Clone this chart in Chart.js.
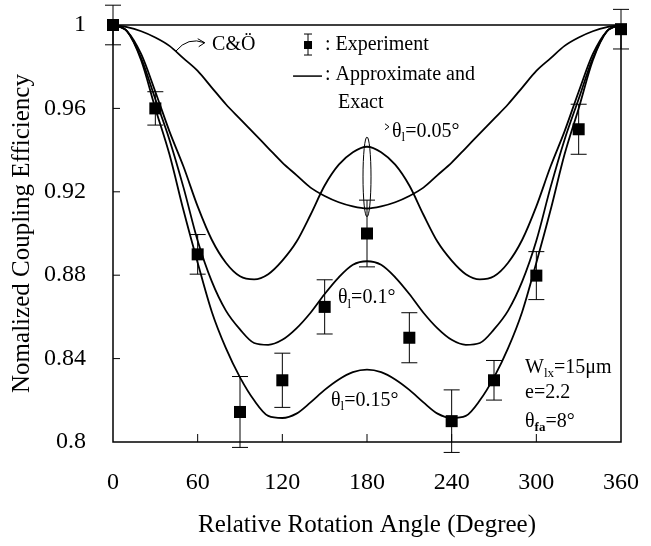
<!DOCTYPE html>
<html>
<head>
<meta charset="utf-8">
<script src="https://cdn.jsdelivr.net/npm/chart.js@4"></script>
<style>
  html, body { margin: 0; padding: 0; background: #fff; }
  #wrap { width: 651px; height: 546px; }
</style>
</head>
<body>
<div id="wrap"><canvas id="chart"></canvas></div>
<script>
// angles for the theory curves (degrees)
const angles = [0, 10, 20, 30, 40, 50, 60, 70, 80, 90, 100, 110, 120, 130, 140, 150, 160, 170, 180,
  190, 200, 210, 220, 230, 240, 250, 260, 270, 280, 290, 300, 310, 320, 330, 340, 350, 360];

// C&Ö curve
const caoValues = [1, 0.999, 0.997, 0.994, 0.990, 0.984, 0.978, 0.970, 0.962, 0.955, 0.948, 0.941, 0.934, 0.928, 0.922, 0.918, 0.915, 0.913, 0.912,
  0.913, 0.915, 0.918, 0.922, 0.928, 0.934, 0.941, 0.948, 0.955, 0.962, 0.970, 0.978, 0.984, 0.990, 0.994, 0.997, 0.999, 1];

// approximate / exact, theta_l = 0.05, 0.1, 0.15 deg
const theta005 = [1, 0.997, 0.986, 0.968, 0.949, 0.932, 0.913, 0.897, 0.886, 0.8795, 0.878, 0.8805, 0.887, 0.896, 0.909, 0.923, 0.933, 0.939, 0.9416,
  0.939, 0.933, 0.923, 0.909, 0.896, 0.887, 0.8805, 0.878, 0.8795, 0.886, 0.897, 0.913, 0.932, 0.949, 0.968, 0.986, 0.997, 1];
const theta010 = [1, 0.997, 0.984, 0.9645, 0.945, 0.922, 0.8965, 0.877, 0.863, 0.854, 0.8475, 0.8466, 0.849, 0.8545, 0.862, 0.871, 0.879, 0.885, 0.8867,
  0.885, 0.879, 0.871, 0.862, 0.8545, 0.849, 0.8466, 0.8475, 0.854, 0.863, 0.877, 0.8965, 0.922, 0.945, 0.9645, 0.984, 0.997, 1];
const theta015 = [1, 0.997, 0.983, 0.960, 0.938, 0.911, 0.886, 0.8625, 0.845, 0.831, 0.820, 0.8125, 0.8115, 0.8136, 0.819, 0.825, 0.830, 0.8335, 0.8347,
  0.8335, 0.830, 0.825, 0.819, 0.8136, 0.8115, 0.8125, 0.820, 0.831, 0.845, 0.8625, 0.886, 0.911, 0.938, 0.960, 0.983, 0.997, 1];

// experiment
const expAngles = [0, 30, 60, 90, 120, 150, 180, 210, 240, 270, 300, 330, 360];
const expValues = [1.0, 0.96, 0.89, 0.8144, 0.8296, 0.8648, 0.900, 0.850, 0.810, 0.8296, 0.8798, 0.95, 0.998];
const expErrors = [0.0095, 0.008, 0.0095, 0.017, 0.013, 0.013, 0.016, 0.012, 0.015, 0.0095, 0.0115, 0.012, 0.0095];

const xTicks = [0, 60, 120, 180, 240, 300, 360];

const SERIF = '"Liberation Serif", "Times New Roman", serif';
const pts = (xs, ys) => xs.map((a, i) => ({ x: a, y: ys[i] }));

function curve(label, values) {
  return {
    label,
    data: pts(angles, values),
    borderColor: '#000',
    borderWidth: 1.8,
    pointRadius: 0,
    fill: false,
    cubicInterpolationMode: 'monotone'
  };
}

// text with a subscript part, e.g. θ_l=0.1°
function subText(ctx, x, y, main, sub, tail, bold) {
  ctx.textAlign = 'left';
  ctx.textBaseline = 'middle';
  ctx.font = '20px ' + SERIF;
  ctx.fillText(main, x, y);
  x += ctx.measureText(main).width;
  ctx.font = (bold ? 'bold ' : '') + '13px ' + SERIF;
  ctx.fillText(sub, x, y + 6);
  x += ctx.measureText(sub).width;
  ctx.font = '20px ' + SERIF;
  ctx.fillText(tail, x, y);
}

const decor = {
  id: 'decor',
  afterDatasetsDraw(chart) {
    const { ctx, chartArea: a, scales: { x, y } } = chart;
    const P = (dx, dy) => [x.getPixelForValue(dx), y.getPixelForValue(dy)];
    ctx.save();
    ctx.strokeStyle = '#000';
    ctx.fillStyle = '#000';

    // frame
    ctx.lineWidth = 1.5;
    ctx.strokeRect(a.left, a.top, a.right - a.left, a.bottom - a.top);

    // inward ticks
    ctx.lineWidth = 1;
    ctx.beginPath();
    [0.84, 0.88, 0.92, 0.96].forEach(v => {
      const py = y.getPixelForValue(v);
      ctx.moveTo(a.left, py); ctx.lineTo(a.left + 7, py);
    });
    xTicks.slice(1, -1).forEach(v => {
      const px = x.getPixelForValue(v);
      ctx.moveTo(px, a.bottom); ctx.lineTo(px, a.bottom - 8);
    });
    ctx.stroke();

    // error bars
    ctx.lineWidth = 1;
    ctx.beginPath();
    expAngles.forEach((ang, i) => {
      const px = x.getPixelForValue(ang);
      const t = y.getPixelForValue(expValues[i] + expErrors[i]);
      const b = y.getPixelForValue(expValues[i] - expErrors[i]);
      ctx.moveTo(px, t); ctx.lineTo(px, b);
      ctx.moveTo(px - 8, t); ctx.lineTo(px + 8, t);
      ctx.moveTo(px - 8, b); ctx.lineTo(px + 8, b);
    });
    ctx.stroke();

    // C&Ö label with curved arrow
    let [tx, ty] = P(70.2, 0.9904);
    ctx.font = '20px ' + SERIF;
    ctx.textAlign = 'left';
    ctx.textBaseline = 'middle';
    ctx.fillText('C&Ö', tx, ty);
    const [sx, sy] = P(44.6, 0.9875);
    const [cx, cy] = P(53, 0.9945);
    const [ex, ey] = P(65, 0.9915);
    ctx.lineWidth = 1;
    ctx.beginPath();
    ctx.moveTo(sx, sy);
    ctx.quadraticCurveTo(cx, cy, ex, ey);
    ctx.moveTo(ex - 7, ey - 4); ctx.lineTo(ex, ey); ctx.lineTo(ex - 6, ey + 4);
    ctx.stroke();

    // legend: experiment
    const [lx, ly] = P(138.2, 0.9904);
    ctx.fillRect(lx - 4, ly - 4, 8, 8);
    ctx.beginPath();
    ctx.moveTo(lx, ly - 11); ctx.lineTo(lx, ly + 10);
    ctx.moveTo(lx - 4, ly - 11); ctx.lineTo(lx + 4, ly - 11);
    ctx.moveTo(lx - 4, ly + 10); ctx.lineTo(lx + 4, ly + 10);
    ctx.stroke();
    [tx, ty] = P(150.2, 0.9904);
    ctx.fillText(': Experiment', tx, ty);

    // legend: theory line
    const [l1x, l1y] = P(127.6, 0.9755);
    const [l2x] = P(148.1, 0.9755);
    ctx.lineWidth = 1.5;
    ctx.beginPath();
    ctx.moveTo(l1x, l1y); ctx.lineTo(l2x, l1y);
    ctx.stroke();
    [tx, ty] = P(150.2, 0.976);
    ctx.fillText(': Approximate and', tx, ty);
    [tx, ty] = P(159.4, 0.9626);
    ctx.fillText('Exact', tx, ty);

    // ellipse round the 180 deg peak
    const [ox, oTop] = P(180, 0.9463);
    const [, oBot] = P(180, 0.908);
    ctx.lineWidth = 1;
    ctx.beginPath();
    ctx.ellipse(ox, (oTop + oBot) / 2, 4, (oBot - oTop) / 2, 0, 0, Math.PI * 2);
    ctx.stroke();

    // curve labels
    [tx, ty] = P(197.7, 0.9488);
    ctx.beginPath();
    ctx.moveTo(tx - 7, ty - 8); ctx.lineTo(tx - 3, ty - 5); ctx.lineTo(tx - 7, ty - 2);
    ctx.stroke();
    subText(ctx, tx, ty, 'θ', 'l', '=0.05°');
    [tx, ty] = P(159.4, 0.869);
    subText(ctx, tx, ty, 'θ', 'l', '=0.1°');
    [tx, ty] = P(154.5, 0.820);
    subText(ctx, tx, ty, 'θ', 'l', '=0.15°');

    // parameters
    [tx, ty] = P(292, 0.8355);
    subText(ctx, tx, ty, 'W', 'lx', '=15μm');
    [tx, ty] = P(292, 0.8235);
    ctx.font = '20px ' + SERIF;
    ctx.fillText('e=2.2', tx, ty);
    [tx, ty] = P(292, 0.8096);
    subText(ctx, tx, ty, 'θ', 'fa', '=8°', true);

    ctx.restore();
  }
};

new Chart(document.getElementById('chart').getContext('2d'), {
  type: 'line',
  data: {
    datasets: [
      curve('C&Ö', caoValues),
      curve('θl=0.05°', theta005),
      curve('θl=0.1°', theta010),
      curve('θl=0.15°', theta015),
      {
        label: 'Experiment',
        data: pts(expAngles, expValues),
        showLine: false,
        pointStyle: 'rect',
        pointRadius: 8.5,
        pointHoverRadius: 8.5,
        backgroundColor: '#000',
        borderColor: '#000',
        borderWidth: 0,
        clip: false
      }
    ]
  },
  options: {
    responsive: true,
    maintainAspectRatio: false,
    animation: false,
    devicePixelRatio: 1,
    layout: { padding: { top: 25, right: 30, left: 0, bottom: 0 } },
    plugins: { legend: { display: false }, tooltip: { enabled: false } },
    scales: {
      x: {
        type: 'linear',
        min: 0,
        max: 360,
        afterBuildTicks: s => { s.ticks = xTicks.map(v => ({ value: v })); },
        afterFit: s => { s.height = 104; s.paddingLeft = 0; s.paddingRight = 0; },
        grid: { display: false, drawTicks: false },
        border: { display: false },
        ticks: { color: '#000', padding: 26, maxRotation: 0, font: { family: SERIF, size: 24 } },
        title: {
          display: true,
          text: 'Relative Rotation Angle (Degree)',
          color: '#000',
          font: { family: SERIF, size: 25 },
          padding: { top: 0, bottom: 6 }
        }
      },
      y: {
        min: 0.8,
        max: 1,
        afterBuildTicks: s => { s.ticks = [0.8, 0.84, 0.88, 0.92, 0.96, 1].map(v => ({ value: v })); },
        afterFit: s => { s.width = 113; s.paddingTop = 0; s.paddingBottom = 0; },
        grid: { display: false, drawTicks: false },
        border: { display: false },
        ticks: {
          color: '#000',
          padding: 27,
          font: { family: SERIF, size: 24 },
          callback: v => String(+v.toFixed(2))
        },
        title: {
          display: true,
          text: 'Nomalized Coupling Efficiency',
          color: '#000',
          font: { family: SERIF, size: 25 },
          padding: { top: 7, bottom: 0 }
        }
      }
    }
  },
  plugins: [decor]
});
</script>
</body>
</html>
